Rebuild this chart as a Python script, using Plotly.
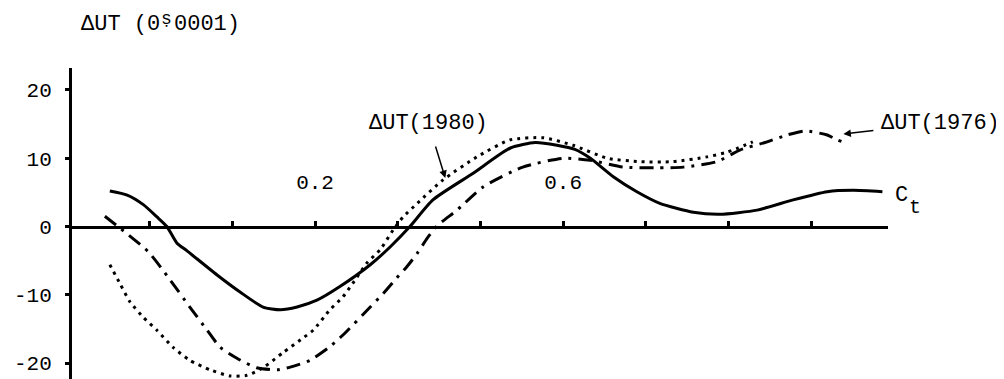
import plotly.graph_objects as go

# Time (fraction of year) and ΔUT values, units of 0.0001 s
ct_x = [-0.131, -0.103, -0.077, -0.055, -0.039, -0.023, -0.006, 0.042, 0.079, 0.116,
        0.144, 0.171, 0.203, 0.240, 0.289, 0.321, 0.353, 0.390, 0.455, 0.515,
        0.555, 0.590, 0.619, 0.644, 0.681, 0.719, 0.756, 0.810, 0.853, 0.913,
        0.971, 1.026, 1.068, 1.115]
ct_y = [5.2, 4.6, 3.2, 1.4, 0.0, -2.4, -3.6, -7.1, -9.6, -11.8,
        -12.2, -11.8, -10.8, -8.8, -5.6, -3.0, 0.0, 3.9, 7.8, 11.5,
        12.3, 11.9, 11.3, 10.0, 7.3, 5.1, 3.4, 2.1, 1.8, 2.4,
        3.9, 5.1, 5.3, 5.1]

ut1980_x = [-0.131, -0.115, -0.098, -0.077, -0.055, -0.029, -0.002, 0.031, 0.063, 0.090,
            0.116, 0.148, 0.181, 0.197, 0.224, 0.245, 0.261, 0.284, 0.305, 0.326,
            0.342, 0.365, 0.406, 0.461, 0.515, 0.568, 0.616, 0.671, 0.724, 0.777,
            0.832, 0.865, 0.906]
ut1980_y = [-5.6, -8.3, -11.1, -13.3, -15.2, -17.7, -19.6, -21.0, -21.9, -21.8,
            -20.7, -18.5, -16.3, -15.2, -12.2, -10.3, -8.3, -5.3, -3.4, -0.5,
            1.4, 3.4, 6.8, 10.2, 12.7, 13.0, 11.9, 10.0, 9.5, 9.5,
            10.2, 10.9, 12.4]

ut1976_x = [-0.139, -0.115, -0.069, -0.034, -0.002, 0.026, 0.047, 0.074, 0.106, 0.139,
            0.160, 0.192, 0.224, 0.245, 0.289, 0.310, 0.332, 0.348, 0.365, 0.381,
            0.398, 0.429, 0.471, 0.535, 0.600, 0.644, 0.697, 0.752, 0.794, 0.848,
            0.885, 0.929, 0.961, 0.990, 1.026, 1.042, 1.058]
ut1976_y = [1.5, -0.2, -3.7, -7.8, -11.8, -15.2, -17.7, -19.3, -20.7, -21.0,
            -20.6, -19.6, -17.6, -15.9, -11.8, -9.8, -7.5, -5.9, -3.9, -1.7,
            0.2, 2.4, 5.8, 8.7, 10.0, 9.7, 8.7, 8.6, 8.7, 9.5,
            11.2, 12.4, 13.4, 14.0, 13.4, 12.7, 12.2]

y_ticks = [-20, -10, 0, 10, 20]
y_tick_labels = ["-20", "-10", "0", "10", "20"]
x_label_ticks = [0.2, 0.6]
x_label_text = ["0.2", "0.6"]
x_minor_step = 0.4 / 3

Y_MIN, Y_MAX = -22.34, 23.22
X_MIN, X_MAX = -0.192, 1.124
FONT = "Liberation Mono"

fig = go.Figure()
fig.add_trace(go.Scatter(x=ct_x, y=ct_y, mode="lines",
                         line=dict(color="black", width=3, shape="spline", smoothing=0.6)))
fig.add_trace(go.Scatter(x=ut1980_x, y=ut1980_y, mode="lines",
                         line=dict(color="black", width=3, dash="3px,5px", shape="spline", smoothing=0.6)))
fig.add_trace(go.Scatter(x=ut1976_x, y=ut1976_y, mode="lines",
                         line=dict(color="black", width=3, dash="14px,7px,3px,7px", shape="spline", smoothing=0.6)))

fig.update_layout(
    width=996, height=371,
    margin=dict(l=64, r=116, t=60, b=0),
    paper_bgcolor="white", plot_bgcolor="white",
    showlegend=False,
    font=dict(family=FONT, size=21, color="black"),
    xaxis=dict(range=[X_MIN, X_MAX], anchor="free",
               position=(0 - Y_MIN) / (Y_MAX - Y_MIN), side="top",
               showline=True, linewidth=3, linecolor="black",
               ticks="outside", ticklen=5, tickwidth=3, tickcolor="black",
               tickvals=x_label_ticks, ticktext=x_label_text, ticklabelstandoff=23,
               minor=dict(tick0=0.2, dtick=x_minor_step, ticks="outside", ticklen=5,
                          tickwidth=3, tickcolor="black", showgrid=False),
               showgrid=False, zeroline=False, tickfont=dict(size=21)),
    yaxis=dict(range=[Y_MIN, Y_MAX], showline=True, linewidth=3, linecolor="black",
               ticks="outside", ticklen=4, tickwidth=3, tickcolor="black",
               tickvals=y_ticks, ticktext=y_tick_labels, ticklabelstandoff=9,
               showgrid=False, zeroline=False, tickfont=dict(size=21)),
)

ann_font = dict(family=FONT, size=22, color="black")
# axis unit label "ΔUT (0ˢ.0001)": the "s" sits above the decimal point
fig.add_annotation(x=0.0098, y=1.1383, xref="paper", yref="paper", text="ΔUT (0",
                   showarrow=False, xanchor="left", yanchor="middle", font=ann_font, borderpad=0)
fig.add_annotation(x=0.1152, y=1.159, xref="paper", yref="paper", text="ṣ",
                   showarrow=False, xanchor="center", yanchor="middle", borderpad=0,
                   font=dict(family=FONT, size=18, color="black"))
fig.add_annotation(x=0.1238, y=1.1383, xref="paper", yref="paper", text="0001)",
                   showarrow=False, xanchor="left", yanchor="middle", font=ann_font, borderpad=0)
fig.add_annotation(x=0.410, y=7.1, xref="x", yref="y", ax=-17, ay=-55,
                   text="ΔUT(1980)", showarrow=True, arrowhead=2, arrowsize=1, arrowwidth=1.5,
                   arrowcolor="black", standoff=0, startstandoff=10, font=ann_font)
fig.add_annotation(x=1.052, y=13.55, xref="x", yref="y", ax=97, ay=-11,
                   text="ΔUT(1976)", showarrow=True, arrowhead=2, arrowsize=1, arrowwidth=1.5,
                   arrowcolor="black", standoff=0, startstandoff=6, font=ann_font)
fig.add_annotation(x=1.0061, y=0.5916, xref="paper", yref="paper", text="C",
                   showarrow=False, xanchor="left", yanchor="middle", font=ann_font)
fig.add_annotation(x=1.0331, y=0.553, xref="paper", yref="paper", text="t",
                   showarrow=False, xanchor="center", yanchor="middle",
                   font=dict(family=FONT, size=20, color="black"))

fig.write_html("out.html")
